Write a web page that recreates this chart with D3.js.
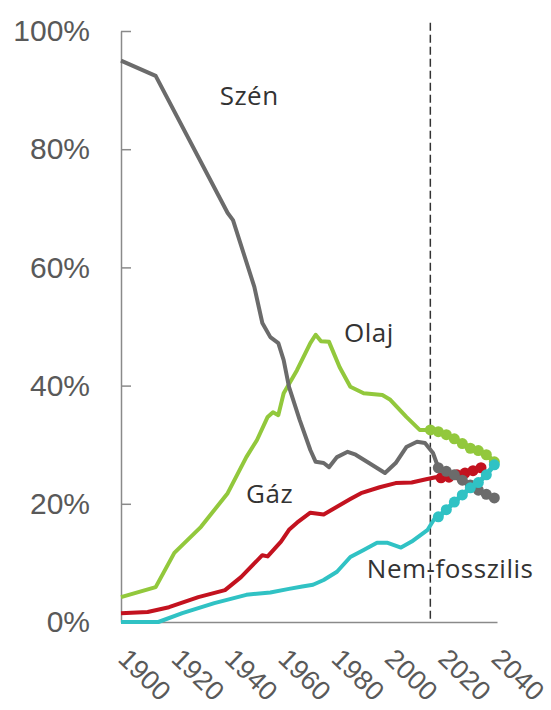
<!doctype html>
<html lang="hu">
<head>
<meta charset="utf-8">
<style>
  body { margin: 0; background: #fff; }
  .axis path, .axis line { stroke: #8a8a8a; stroke-width: 1.5px; }
  .axis text { font-family: "Liberation Sans", Arial, sans-serif; font-size: 30px; fill: #595959; }
  .xaxis text { font-size: 27px; }
  .label { font-family: "Open Sans", sans-serif; font-size: 26px; fill: #333; letter-spacing: 0.5px; }
</style>
</head>
<body>
<script src="https://d3js.org/d3.v7.min.js"></script>
<script>
// historical shares (%), [year, value]
var szenHist = [[1900,95.0],[1913,92.4],[1940,69.2],[1942,68.0],[1950,56.7],[1953,50.6],[1956,48.2],[1959,47.2],
  [1961,44.3],[1963,39.8],[1967,34.2],[1971,29.1],[1973,27.1],[1976,26.9],[1978,26.2],[1981,27.9],[1985,28.8],
  [1988,28.3],[1993,26.9],[1999,25.2],[2003,26.9],[2007,29.6],[2011,30.5],[2014,30.3],[2017,28.6],[2019,26.1]];
var olajHist = [[1900,4.2],[1913,5.9],[1920,11.7],[1930,16.1],[1940,21.8],[1947,27.9],[1951,30.8],[1955,34.7],
  [1957,35.5],[1959,35.0],[1961,38.7],[1966,42.6],[1971,47.2],[1973,48.6],[1975,47.5],[1978,47.4],[1982,43.1],
  [1986,39.8],[1991,38.7],[1998,38.4],[2001,37.6],[2007,34.7],[2012,32.5],[2016,32.5]];
var gazHist = [[1900,1.5],[1910,1.7],[1918,2.5],[1929,4.2],[1939,5.4],[1945,7.6],[1953,11.3],[1955,11.1],
  [1960,13.6],[1963,15.6],[1966,16.8],[1971,18.5],[1976,18.2],[1981,19.5],[1986,20.8],[1990,21.8],[1997,22.8],
  [2003,23.5],[2009,23.6],[2014,24.1],[2018,24.5],[2020,24.4]];
var nemHist = [[1900,0],[1914,0],[1923,1.5],[1935,3.2],[1947,4.6],[1956,5.0],[1963,5.6],[1968,6.0],[1972,6.3],
  [1976,7.1],[1981,8.5],[1986,11.0],[1991,12.2],[1996,13.4],[2000,13.4],[2005,12.6],[2009,13.6],[2015,15.6],
  [2018,17.8],[2019,17.8]];

// projections (dots)
var szenProj = [[2019,26.1],[2022,25.5],[2025,24.9],[2028,24.0],[2031,23.2],[2034,22.3],[2037,21.6],[2040,21.0]];
var olajProj = [[2016,32.5],[2019,32.2],[2022,31.7],[2025,31.0],[2028,30.2],[2031,29.4],[2034,29.0],[2037,28.3],[2040,27.1]];
var gazProj = [[2020,24.4],[2023,24.5],[2026,24.9],[2029,25.2],[2032,25.6],[2035,26.1]];
var nemProj = [[2019,17.8],[2022,19.0],[2025,20.3],[2028,21.5],[2031,22.7],[2034,23.6],[2037,24.9],[2040,26.6]];

var xTicks = [1900,1920,1940,1960,1980,2000,2020,2040];
var yTicks = [0,20,40,60,80,100];
var projStart = 2016;

var width = 551, height = 710;
var svg = d3.select("body").append("svg")
  .attr("width", width)
  .attr("height", height);

var x = d3.scaleLinear().domain([1900, 2041]).range([121, 497]);
var y = d3.scaleLinear().domain([0, 100]).range([622, 31]);

// y axis, ticks pointing inward
svg.append("g")
  .attr("class", "axis")
  .attr("transform", "translate(" + x(1900) + ",0)")
  .call(d3.axisLeft(y).tickValues(yTicks).tickSizeInner(-10).tickSizeOuter(0)
    .tickPadding(31).tickFormat(function(d){ return d + "%"; }));

// x axis, rotated labels
var xg = svg.append("g")
  .attr("class", "axis xaxis")
  .attr("transform", "translate(0," + y(0) + ")")
  .call(d3.axisBottom(x).tickValues(xTicks).tickSize(0).tickFormat(d3.format("d")));
xg.selectAll("text")
  .attr("y", 0)
  .attr("dy", null)
  .attr("text-anchor", "middle")
  .attr("dominant-baseline", "central")
  .attr("transform", "translate(23,53) rotate(44)");

// forecast divider
svg.append("line")
  .attr("x1", x(projStart)).attr("x2", x(projStart))
  .attr("y1", y(101.4)).attr("y2", y(0))
  .attr("stroke", "#333")
  .attr("stroke-width", 1.5)
  .attr("stroke-dasharray", "8,4");

var line = d3.line()
  .x(function(d){ return x(d[0]); })
  .y(function(d){ return y(d[1]); });

var series = [
  {hist: olajHist, proj: olajProj, color: "#92c83c"},
  {hist: gazHist, proj: gazProj, color: "#c3121f"},
  {hist: szenHist, proj: szenProj, color: "#6b6b6b"},
  {hist: nemHist, proj: nemProj, color: "#30c2c4"}
];

series.forEach(function(s){
  var g = svg.append("g");
  g.append("path")
    .datum(s.hist)
    .attr("d", line)
    .attr("fill", "none")
    .attr("stroke", s.color)
    .attr("stroke-width", 4)
    .attr("stroke-linejoin", "round");
  g.append("path")
    .datum(s.proj)
    .attr("d", line)
    .attr("fill", "none")
    .attr("stroke", s.color)
    .attr("stroke-width", 5);
  g.selectAll("circle")
    .data(s.proj).enter()
    .append("circle")
    .attr("cx", function(d){ return x(d[0]); })
    .attr("cy", function(d){ return y(d[1]); })
    .attr("r", 5.5)
    .attr("fill", s.color);
});

// series names
svg.append("text").attr("class", "label").attr("x", x(1937)).attr("y", y(87.5)).text("Szén");
svg.append("text").attr("class", "label").attr("x", x(1983.6)).attr("y", y(47.4)).text("Olaj");
svg.append("text").attr("class", "label").attr("x", x(1946.9)).attr("y", y(20.1)).text("Gáz");
svg.append("text").attr("class", "label").attr("x", x(1992.2)).attr("y", y(7.4)).text("Nem-fosszilis");
</script>
</body>
</html>
